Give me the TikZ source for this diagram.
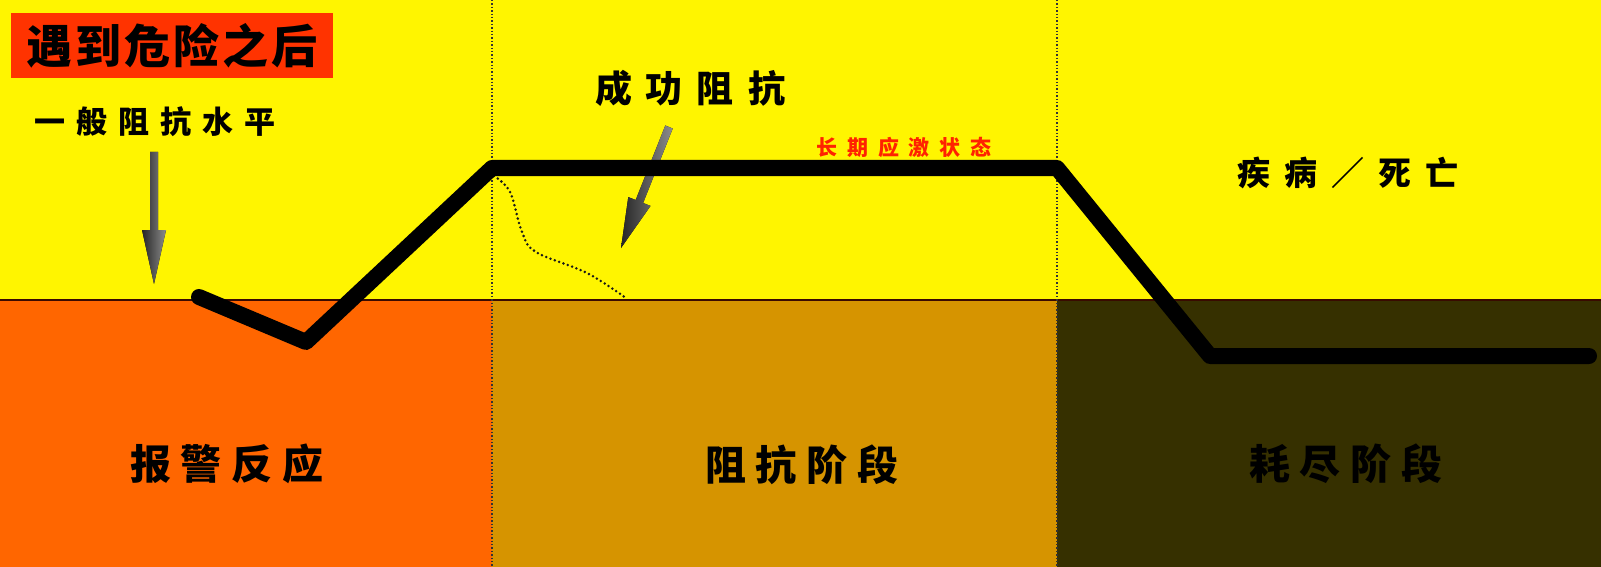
\documentclass[tikz,border=0pt]{standalone}
\usepackage{fontspec}
\newfontfamily\cjk{Noto Sans CJK SC}
\usetikzlibrary{calc}
\definecolor{bgyellow}{HTML}{FFF500}
\definecolor{alarm}{HTML}{FF6600}
\definecolor{resist}{HTML}{D69400}
\definecolor{exhaust}{HTML}{363000}
\definecolor{titlered}{HTML}{FF3300}
\definecolor{stressred}{HTML}{FF2200}
\definecolor{divline}{HTML}{3A0A00}
\tikzset{
  label/.style={inner sep=0pt, font=\cjk\bfseries, text=black},
  stagelabel/.style={label, font=\cjk\bfseries\fontsize{41}{44}\selectfont},
  divider/.style={draw=black!80, line width=1.4pt, dotted},
  curve/.style={line width=16pt, line cap=round, line join=round, draw=black},
  pointer/.style={left color=black!85, right color=black!45, draw=none},
  faint/.style={draw=black!90, line width=2.8pt, line cap=round, dash pattern=on 0pt off 4.6pt},
}
\newcommand\kk[1]{\kern#1pt}
\begin{document}
\begin{tikzpicture}[x=1pt,y=-1pt]
\useasboundingbox (0,0) rectangle (1601,567);
% backgrounds
\fill[bgyellow] (0,0) rectangle (1601,300);
\fill[alarm] (0,300) rectangle (492,567);
\fill[resist] (492,300) rectangle (1057,567);
\fill[exhaust] (1057,300) rectangle (1601,567);
\draw[divline, line width=1.8pt] (0,300) -- (1601,300);
% phase dividers
\coordinate (d1t) at (492,0); \coordinate (d1b) at (492,567);
\coordinate (d2t) at (1057,0); \coordinate (d2b) at (1057,567);
\draw[divider] (d1t) -- (d1b);
\draw[divider] (d2t) -- (d2b);
% title
\node[label, fill=titlered, minimum width=322pt, minimum height=65pt,
      font=\cjk\bfseries\fontsize{46}{48}\selectfont] (title) at (172,45.5)
      {遇\kk3到\kk3危\kk3险\kk3之\kk3后};
% general resistance level
\node[label, font=\cjk\bfseries\fontsize{31}{34}\selectfont] (gen) at (155,122)
      {一\kk{11}般\kk{11}阻\kk{11}抗\kk{11}水\kk{11}平};
\fill[pointer] (150,152) -- (158,152) -- (158,230) -- (166,230) -- (154,284)
      -- (142,230) -- (150,230) -- cycle;
% successful resistance
\node[label, font=\cjk\bfseries\fontsize{37}{40}\selectfont] (succ) at (690,88)
      {成\kk{14}功\kk{14}阻\kk{14}抗};
\fill[pointer] (665.3,125.5) -- (672.7,128.5) -- (643.1,203.0) -- (650.5,205.9)
      -- (621,248) -- (628.3,197.1) -- (635.7,200.0) -- cycle;
% dotted successful curve
\draw[faint] plot[smooth, tension=0.6] coordinates
      {(494,176) (510,192) (522,232) (536,252) (587,273) (626,298)};
% chronic stress label
\node[label, text=stressred, font=\cjk\bfseries\fontsize{21}{24}\selectfont] (chronic) at (904,147)
      {长\kk{10}期\kk{10}应\kk{10}激\kk{10}状\kk{10}态};
% disease / death
\node[label, font=\cjk\bfseries\fontsize{33}{36}\selectfont] (death) at (1348,173)
      {疾\kk{14}病\kk{14}／\kk{14}死\kk{14}亡};
% main response curve
\coordinate (p0) at (199,297);
\coordinate (p1) at (306,342);
\coordinate (p2) at (492,168);
\coordinate (p3) at (1057,168);
\coordinate (p4) at (1210,356);
\coordinate (p5) at (1589,356);
\draw[curve] (p0) -- (p1) -- (p2) -- (p3) -- (p4) -- (p5);
% stage labels
\node[stagelabel] (alarmlbl) at (227,464) {报\kk{10}警\kk{10}反\kk{10}应};
\node[stagelabel] (resistlbl) at (802,465) {阻\kk{10}抗\kk{10}阶\kk{10}段};
\node[stagelabel] (exhaustlbl) at (1346,464) {耗\kk{10}尽\kk{10}阶\kk{10}段};
\end{tikzpicture}
\end{document}
